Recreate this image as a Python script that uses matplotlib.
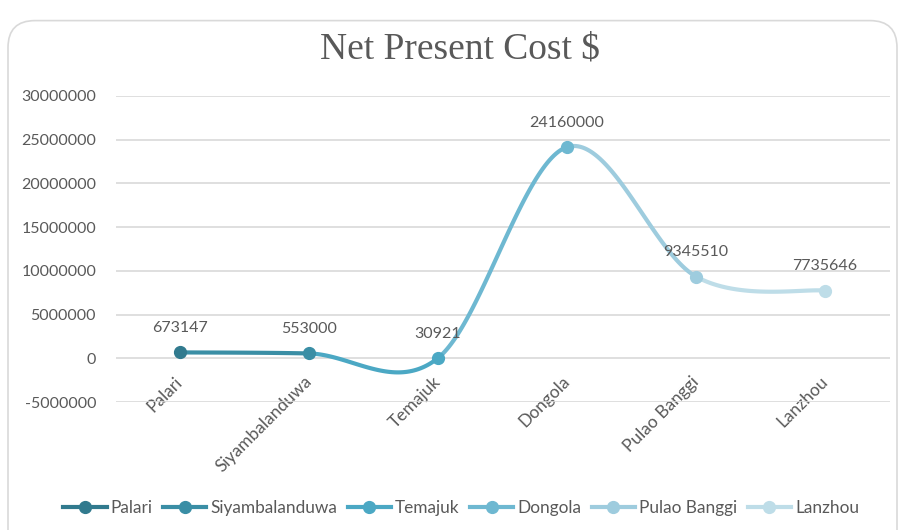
import numpy as np
import matplotlib.pyplot as plt
from matplotlib.patches import FancyBboxPatch

# data
sites = ["Palari", "Siyambalanduwa", "Temajuk", "Dongola", "Pulao Banggi", "Lanzhou"]
npc = [673147, 553000, 30921, 24160000, 9345510, 7735646]
colors = ["#317A8E", "#3A8EA5", "#4BA8C4", "#6EB8D1", "#9ECCDE", "#BEDDE8"]
yticks = [-5000000, 0, 5000000, 10000000, 15000000, 20000000, 25000000, 30000000]

txt = "#595959"
plt.rcParams['font.family'] = ['Lato', 'DejaVu Sans']

fig = plt.figure(figsize=(8.99, 5.30), dpi=100)
ax = fig.add_axes([0.1285, 0.2415, 0.861, 0.5774])

# rounded chart frame (like the excel chart area)
frame = FancyBboxPatch((8 / 899, -0.05), 889 / 899, 1.03 - 10 / 530,
                       boxstyle="round,pad=0,rounding_size=0.03",
                       transform=fig.transFigure, fc="white", ec="#D9D9D9", lw=1.2,
                       zorder=-10, mutation_aspect=899 / 530)
fig.patches.append(frame)

x = np.arange(len(npc), dtype=float)
y = np.array(npc, dtype=float)


# excel style smoothed line: bezier segments, catmull-rom like control points
def seg(i, n=60):
    p = lambda k: np.array([x[min(max(k, 0), len(x) - 1)], y[min(max(k, 0), len(x) - 1)]])
    p0, p1, p2, p3 = p(i - 1), p(i), p(i + 1), p(i + 2)
    c1 = p1 + (p2 - p0) / 6
    c2 = p2 - (p3 - p1) / 6
    t = np.linspace(0, 1, n)[:, None]
    b = (1 - t) ** 3 * p1 + 3 * (1 - t) ** 2 * t * c1 + 3 * (1 - t) * t ** 2 * c2 + t ** 3 * p2
    return b[:, 0], b[:, 1]


for i in range(len(x) - 1):
    sx, sy = seg(i)
    ax.plot(sx, sy, color=colors[i + 1], lw=3, solid_capstyle='round', zorder=3)

for i in range(len(x)):
    ax.plot([x[i]], [y[i]], '-o', color=colors[i], lw=3, ms=8.5, label=sites[i], zorder=4)
    ax.annotate(str(npc[i]), (x[i], y[i]), xytext=(0, 12.5), textcoords='offset points',
                ha='center', va='bottom', fontsize=11.5, color=txt)

ax.set_xlim(-0.5, len(x) - 0.5)
ax.set_ylim(-5000000, 30000000)
ax.set_yticks(yticks)
ax.set_yticklabels([str(v) for v in yticks])
ax.grid(axis='y', color='#D9D9D9', lw=1.2)
ax.set_axisbelow(True)
for s in ax.spines.values():
    s.set_visible(False)
ax.spines['bottom'].set_position(('data', 0))
ax.tick_params(axis='both', length=0, labelsize=11.5, labelcolor=txt)
ax.tick_params(axis='y', pad=14)
ax.set_xticks(x)
ax.set_xticklabels(sites, rotation=45, ha='right', va='center', rotation_mode='anchor',
                   fontsize=12.5)
ax.tick_params(axis='x', pad=15)

fig.text(0.512, 0.907, "Net Present Cost $", ha='center', va='center',
         fontsize=27, color=txt, family='Liberation Serif')

fig.legend(loc='center', bbox_to_anchor=(0.513, 0.042), ncol=6, frameon=False,
           fontsize=12.4, labelcolor=txt, handlelength=2.5, columnspacing=0.6,
           handletextpad=0.25)

fig.savefig("out.png", dpi=100)
